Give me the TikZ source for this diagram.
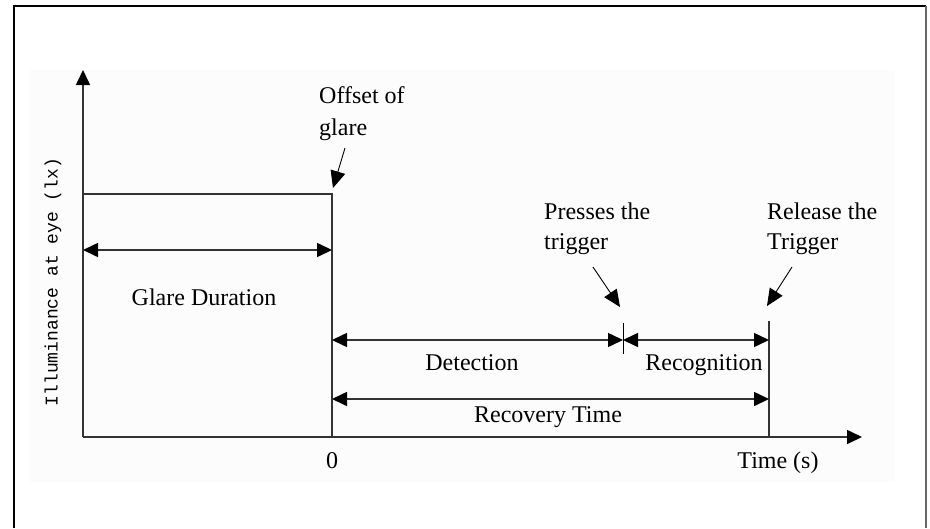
\documentclass[tikz,border=0pt]{standalone}
\usepackage{fontspec}
\setmainfont{Liberation Serif}
\newfontfamily\axisfont{Liberation Mono}
\usetikzlibrary{arrows.meta}

\begin{document}
\begin{tikzpicture}[x=1pt,y=-1pt,
    line/.style={line width=1.6pt,draw=black!80},
    dim/.style={line,{Triangle[length=15pt,width=14pt,color=black]}-{Triangle[length=15pt,width=14pt,color=black]}},
    axis/.style={line,-{Triangle[length=15pt,width=14pt,color=black]}},
    pointer/.style={line width=0.9pt,-{Triangle[length=17pt,width=15pt]}},
    lbl/.style={font=\fontsize{24}{30}\selectfont,inner sep=0pt,anchor=base},
    note/.style={lbl,align=left,anchor=north west}]
    \useasboundingbox (0,0) rectangle (930,528);
    \fill[black!1] (30,70) rectangle (895,482);
    \draw[line width=1.5pt] (14,528) -- (14,6) -- (926,6);
    \draw[line width=2pt,black!60] (926,6) -- (926,528); % frame

    \coordinate (O) at (83,437);
    \coordinate (zero) at (332,437);
    \coordinate (release) at (769,437);
    \draw[axis] (O) -- (83,70) coordinate (ytip);
    \draw[axis] (O) -- (862,437) coordinate (xtip);
    \draw[line] (83,194) coordinate (gtop) -- (332,194) coordinate (gend) -- (zero);
    \draw[line] (769,321) coordinate (rtop) -- (release);
    \draw[line width=1pt] (623,323) coordinate (ptop) -- (623,354) coordinate (pbot);

    \draw[dim] (83,250) coordinate (g1) -- (332,250) coordinate (g2);
    \draw[dim] (332,340) coordinate (d1) -- (623,340) coordinate (d2);
    \draw[dim] (d2) -- (769,340) coordinate (r2);
    \draw[dim] (332,399) coordinate (rc1) -- (769,399) coordinate (rc2);

    \node[lbl] (glare) at (204,305) {Glare Duration};
    \node[lbl] (detect) at (472,370) {Detection};
    \node[lbl] (recog) at (704,370) {Recognition};
    \node[lbl] (recov) at (548,422) {Recovery Time};
    \node[lbl] (zlbl) at (332,468) {0};
    \node[lbl] (tlbl) at (778,468) {Time (s)};
    \node[font=\axisfont\fontsize{18}{20}\selectfont,rotate=90,inner sep=0pt] (ylbl) at (53,282) {Illuminance at eye (lx)};

    \node[note,font=\fontsize{24}{32}\selectfont] (offset) at (319,86) {Offset of\\glare};
    \node[note] (presses) at (544,203) {Presses the\\trigger};
    \node[note] (releases) at (767,203) {Release the\\Trigger};
    \draw[pointer] (345,148) coordinate (o1) -- (333,188) coordinate (o2);
    \draw[pointer] (593,267) coordinate (p1) -- (620,307) coordinate (p2);
    \draw[pointer] (792,267) coordinate (q1) -- (767,306) coordinate (q2);
\end{tikzpicture}
\end{document}
